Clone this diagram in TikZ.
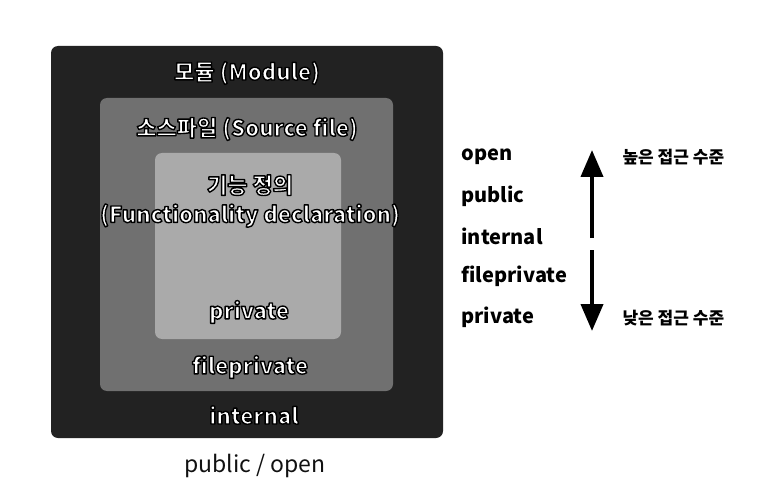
\documentclass[tikz,border=0pt]{standalone}
\usepackage{fontspec}
\setmainfont{Noto Sans CJK KR}
\usetikzlibrary{arrows.meta,positioning}

% white text with a black rim, drawn as one copy
\newcommand{\rimtext}[1]{\special{pdf:code 2 Tr 0 0 0 RG 1.4 w 1 j}#1\special{pdf:code 0 Tr}}

\begin{document}
\begin{tikzpicture}[x=1pt,y=-1pt,
    scopebox/.style={rounded corners=7pt},
    boxlabel/.style={font=\fontsize{22}{29}\selectfont\bfseries, text=white, align=center},
    levellabel/.style={font=\fontsize{20}{22}\selectfont\bfseries, anchor=west},
    ranklabel/.style={font=\fontsize{17}{19}\selectfont\bfseries, anchor=west},
    levelarrow/.style={line width=4pt, -{Triangle[width=22pt,length=27pt]}}]

  \useasboundingbox (0,0) rectangle (766,500);

  % nested scopes
  \fill[scopebox, fill={rgb,255:red,34;green,34;blue,34}] (51,46) rectangle (443,438);
  \fill[scopebox, fill={rgb,255:red,112;green,112;blue,112}] (100,98) rectangle (393,391);
  \fill[scopebox, fill={rgb,255:red,170;green,170;blue,170}] (155,153) rectangle (341,339);

  \node[boxlabel] (module) at (247,73) {\rimtext{모듈 (Module)}};
  \node[boxlabel] (source) at (247,129) {\rimtext{소스파일 (Source file)}};
  \node[boxlabel] (func) at (250,201) {\rimtext{기능 정의}\\\rimtext{(Functionality declaration)}};
  \node[boxlabel] (private) at (249,312) {\rimtext{private}};
  \node[boxlabel] (fileprivate) at (250,367) {\rimtext{fileprivate}};
  \node[boxlabel] (internal) at (254,415) {\rimtext{internal}};
  \node[font=\fontsize{23}{26}\selectfont, text={rgb,255:red,17;green,17;blue,17}] (public) at (255,466) {public / open};

  % access levels
  \node[levellabel] (lopen) at (458,157) {open};
  \node[levellabel] (lpublic) at (458,196) {public};
  \node[levellabel] (linternal) at (458,236) {internal};
  \node[levellabel] (lfileprivate) at (458,276) {fileprivate};
  \node[levellabel] (lprivate) at (458,317) {private};

  \node[ranklabel] (high) at (619,157) {높은 접근 수준};
  \node[ranklabel] (low) at (619,318) {낮은 접근 수준};

  \coordinate (upstart) at (592,238);
  \coordinate (upend) at (592,150);
  \coordinate (downstart) at (592,250);
  \coordinate (downend) at (592,331);
  \draw[levelarrow] (upstart) -- (upend);
  \draw[levelarrow] (downstart) -- (downend);

\end{tikzpicture}
\end{document}
